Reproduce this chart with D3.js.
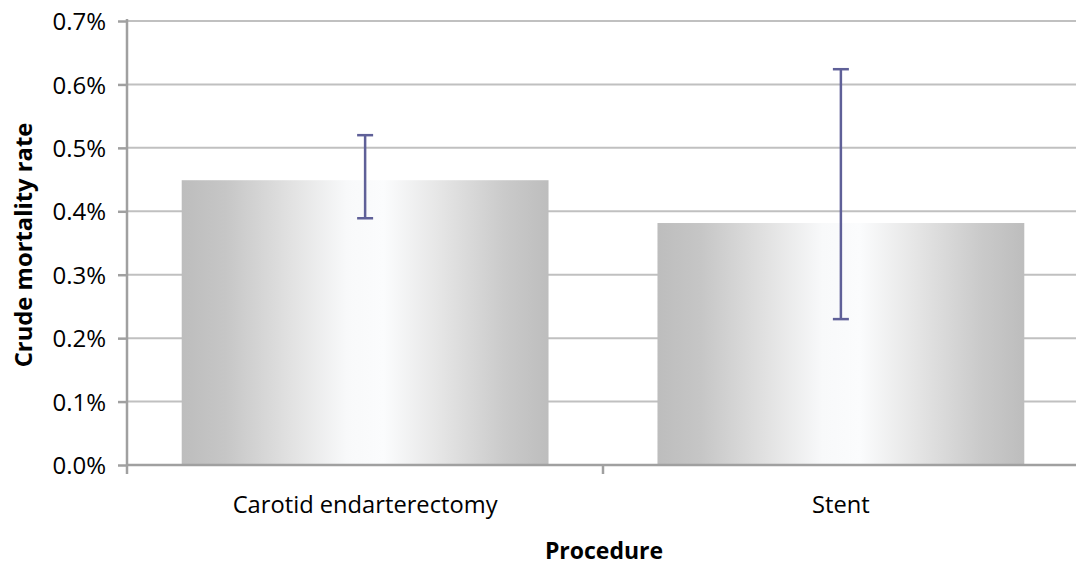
<!DOCTYPE html>
<html><head><meta charset="utf-8">
<script src="https://cdn.jsdelivr.net/npm/d3@7"></script>
<style>body{margin:0;background:#fff;} text{font-family:"Open Sans", sans-serif;fill:#000;}</style>
</head><body><svg id="c" width="1076" height="567"></svg>
<script>
const categories = ["Carotid endarterectomy", "Stent"];
const rates = [0.449, 0.3815];
const lowerCI = [0.389, 0.230];
const upperCI = [0.520, 0.624];
const yTicks = [0, 0.1, 0.2, 0.3, 0.4, 0.5, 0.6, 0.7];

(function () {
const svg = d3.select("#c");
const pLeft = 127, pRight = 1079, pTop = 21, pBottom = 465;
const x = d3.scaleBand().domain(categories).range([pLeft, pRight]).paddingInner(0.229).paddingOuter(0.115);
const y = d3.scaleLinear().domain([0, 0.7]).range([pBottom, pTop]);

const defs = svg.append("defs");
const g = defs.append("linearGradient").attr("id", "barGrad").attr("x1", "0%").attr("x2", "100%").attr("y1", "0%").attr("y2", "0%");
[[0, "#bdbdbd"], [0.12, "#c6c6c6"], [0.3, "#e2e2e2"], [0.45, "#f8f9fa"], [0.55, "#fbfcfd"], [0.7, "#e6e6e6"], [0.88, "#cacaca"], [1, "#bdbdbd"]]
  .forEach(([o, c]) => g.append("stop").attr("offset", o).attr("stop-color", c));

// gridlines
svg.append("g").selectAll("line").data(yTicks.filter(d => d > 0)).join("line")
  .attr("x1", pLeft).attr("x2", 1076).attr("y1", d => y(d)).attr("y2", d => y(d))
  .attr("stroke", "#c0c0c0").attr("stroke-width", 2);

// bars
svg.append("g").selectAll("rect").data(categories).join("rect")
  .attr("x", d => x(d)).attr("width", x.bandwidth())
  .attr("y", (d, i) => y(rates[i])).attr("height", (d, i) => y(0) - y(rates[i]))
  .attr("fill", "url(#barGrad)");

// y axis
const yAxis = d3.axisLeft(y).tickValues(yTicks).tickFormat(d => d.toFixed(1) + "%").tickSize(9).tickPadding(12);
const ya = svg.append("g").attr("transform", `translate(${pLeft},0)`).call(yAxis);
ya.select(".domain").attr("stroke", "#a0a0a0").attr("stroke-width", 2.5).attr("d", `M0,${pTop - 2}V${pBottom}`);
ya.selectAll(".tick line").attr("stroke", "#a0a0a0").attr("stroke-width", 2.5);
ya.selectAll(".tick text").style("font-size", "24px").attr("fill", "#000").attr("dy", "0.36em");

// x axis
const xa = svg.append("g").attr("transform", `translate(0,${pBottom})`);
xa.append("line").attr("x1", pLeft).attr("x2", 1076).attr("stroke", "#a0a0a0").attr("stroke-width", 2.5);
const boundaries = [pLeft, (x(categories[0]) + x.bandwidth() + x(categories[1])) / 2, pRight];
xa.selectAll(".tk").data(boundaries).join("line").attr("class", "tk")
  .attr("x1", d => d).attr("x2", d => d).attr("y1", 0).attr("y2", 9)
  .attr("stroke", "#a0a0a0").attr("stroke-width", 2.5);
xa.selectAll(".cl").data(categories).join("text").attr("class", "cl")
  .attr("x", d => x(d) + x.bandwidth() / 2).attr("y", 48).attr("text-anchor", "middle")
  .style("font-size", "23.7px").text(d => d);

// error bars
const eb = svg.append("g").attr("stroke", "#5f6098").attr("stroke-width", 2.5);
categories.forEach((c, i) => {
  const cx = x(c) + x.bandwidth() / 2;
  eb.append("line").attr("x1", cx).attr("x2", cx).attr("y1", y(upperCI[i])).attr("y2", y(lowerCI[i]));
  eb.append("line").attr("x1", cx - 8).attr("x2", cx + 8).attr("y1", y(upperCI[i])).attr("y2", y(upperCI[i]));
  eb.append("line").attr("x1", cx - 8).attr("x2", cx + 8).attr("y1", y(lowerCI[i])).attr("y2", y(lowerCI[i]));
});

// titles
svg.append("text").attr("x", 604).attr("y", 559).attr("text-anchor", "middle")
  .style("font-size", "23px").style("font-weight", "bold").text("Procedure");
svg.append("text").attr("transform", "translate(32,245) rotate(-90)").attr("text-anchor", "middle")
  .style("font-size", "23.8px").style("font-weight", "bold").text("Crude mortality rate");
})();
</script></body></html>
